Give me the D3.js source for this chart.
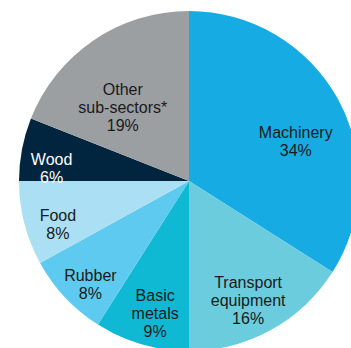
<!DOCTYPE html>
<html><head><meta charset="utf-8">
<script src="https://cdn.jsdelivr.net/npm/d3@7"></script>
<style>html,body{margin:0;padding:0;background:#fff;overflow:hidden}</style>
</head><body><svg id="c" width="351" height="348"></svg>
<script>
const categories = ["Machinery", "Transport equipment", "Basic metals", "Rubber", "Food", "Wood", "Other sub-sectors*"];
const values = [34, 16, 9, 8, 8, 6, 19];
const valueLabels = ["34%", "16%", "9%", "8%", "8%", "6%", "19%"];

// layout / style (not data)
const colors = ["#16ACE3", "#6ACCDD", "#0FB9D3", "#5FCAF0", "#ABDFF4", "#02253F", "#9B9FA2"];
const textColors = ["#1a1a1a", "#1a1a1a", "#1a1a1a", "#1a1a1a", "#1a1a1a", "#fff", "#1a1a1a"];
const labelLines = [["Machinery"], ["Transport", "equipment"], ["Basic", "metals"], ["Rubber"], ["Food"], ["Wood"], ["Other", "sub-sectors*"]];
const labelPolar = [[69.5, 114], [153.6, 133], [194.3, 137], [223.6, 143], [251.8, 138], [275.4, 138], [318, 99]];

const cx = 189, cy = 181, R = 170;
const svg = d3.select("#c");
const g = svg.append("g").attr("transform", `translate(${cx},${cy})`);
const pie = d3.pie().sort(null).value(d => d)(values);
const arc = d3.arc().innerRadius(0).outerRadius(R);
g.selectAll("path").data(pie).join("path")
  .attr("d", arc).attr("fill", (d, i) => colors[i]);

const fs = 16, lh = 18;
pie.forEach((d, i) => {
  const [angDeg, dist] = labelPolar[i];
  const a = angDeg * Math.PI / 180;
  const x = Math.sin(a) * dist, y = -Math.cos(a) * dist;
  const lines = labelLines[i].concat([valueLabels[i]]);
  const t = g.append("text").attr("text-anchor", "middle")
    .style("font-family", "'Liberation Sans', Arial, sans-serif")
    .attr("font-size", fs).attr("fill", textColors[i]);
  const y0 = y - (lines.length - 1) * lh / 2 + fs * 0.35;
  lines.forEach((l, k) => t.append("tspan").attr("x", x).attr("y", y0 + k * lh).text(l));
});
</script></body></html>
